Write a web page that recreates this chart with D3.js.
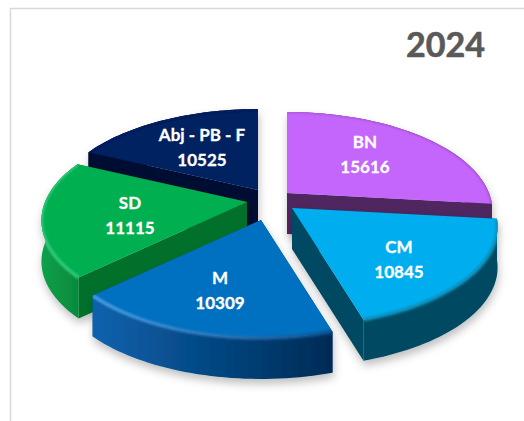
<!DOCTYPE html>
<html><head><meta charset="utf-8">
<style>html,body{margin:0;padding:0;background:#fff}svg{display:block}</style>
<script src="https://cdn.jsdelivr.net/npm/d3@7/dist/d3.min.js"></script>
</head><body><svg id="c" width="524" height="421"></svg>
<script>
const categories = ["BN","CM","M","SD","Abj - PB - F"];
const values = [15616,10845,10309,11115,10525];
const chartTitle = "2024";

const topColors  = ["#C465FB","#00AEEF","#0070C0","#00AF50","#002060"];
const cutColors  = ["#50265F","#004A63","#004A80","#066F2C","#000F30"];
const rimLeft    = ["#50265F","#004A63","#0A62AE","#0AA04A","#000F30"];
const rimRight   = ["#50265F","#004A63","#002B55","#068A3C","#000F30"];
const edgeLeft   = ["#a052d0","#0b8db8","#4aa0e4","#30c878","#001a50"];
const edgeRight  = ["#8a45b5","#0b8db8","#0a4f8c","#30c878","#001a50"];
const apexX = [287,292,261,247,258];
const apexY = [193,208,220,202,190];
const labelDX = [78,107,-41,-117,-56];
const labelDY = [-39,51,70,13,-43];

const RX=202, RY=96, K=0.186, DEPTH=41;
const svg=d3.select("#c");
const defs=svg.append("defs");
const sh=defs.append("filter").attr("id","shadow").attr("x","-20%").attr("y","-20%").attr("width","140%").attr("height","150%");
sh.append("feDropShadow").attr("dx",1).attr("dy",5).attr("stdDeviation",4).attr("flood-color","#000").attr("flood-opacity",.25);
defs.append("filter").attr("id","soft").attr("x","-10%").attr("y","-10%").attr("width","120%").attr("height","120%")
  .append("feGaussianBlur").attr("stdDeviation",1.3);

// frame
svg.append("line").attr("x1",10).attr("x2",524).attr("y1",8.5).attr("y2",8.5).attr("stroke","#d9d9d9").attr("stroke-width",1.5);
svg.append("line").attr("x1",10.5).attr("x2",10.5).attr("y1",8).attr("y2",421).attr("stroke","#d9d9d9").attr("stroke-width",1.5);

const pie=d3.pie().sort(null).startAngle(0).endAngle(2*Math.PI);
const arcs=pie(values);
const project=(a,r,i,dz=0)=>{
  const X=r*Math.sin(a),Z=r*Math.cos(a),w=1+K*Z;
  return [apexX[i]+RX*X/w, apexY[i]-RY*Z/w+dz];
};
const line=d3.line();
const sample=(d,i,dz=0)=>d3.range(0,41).map(t=>project(d.startAngle+(d.endAngle-d.startAngle)*t/40,1,i,dz));
const hGradient=(id,x1,x2,c1,c2)=>{
  const gr=defs.append("linearGradient").attr("id",id).attr("gradientUnits","userSpaceOnUse")
    .attr("x1",x1).attr("x2",x2).attr("y1",0).attr("y2",0);
  gr.append("stop").attr("offset",0).attr("stop-color",c1);
  gr.append("stop").attr("offset",1).attr("stop-color",c2);
};

const order=[4,0,3,1,2];
order.forEach(i=>{
  const d=arcs[i], g=svg.append("g").attr("filter","url(#shadow)");
  const top=sample(d,i), bot=sample(d,i,DEPTH);
  const apex=project(0,0,i), apexB=project(0,0,i,DEPTH);
  const xs=top.map(p=>p[0]);
  hGradient("rim"+i,d3.min(xs),d3.max(xs),rimLeft[i],rimRight[i]);
  hGradient("edge"+i,d3.min(xs),d3.max(xs),edgeLeft[i],edgeRight[i]);
  // cut faces
  const cut=(a,b)=>g.append("path").attr("d",line([a,b,[b[0],b[1]+DEPTH],[a[0],a[1]+DEPTH]])+"Z").attr("fill",cutColors[i]);
  cut(apex,top[0]);
  cut(apex,top[40]);
  // outer rim
  g.append("path").attr("d",line(top.concat(bot.slice().reverse()))+"Z").attr("fill",`url(#rim${i})`);
  // top face
  const face=[apex].concat(top);
  const clipId="clip"+i;
  defs.append("clipPath").attr("id",clipId).append("path")
    .attr("d",line(top.concat(bot.slice().reverse()))+"Z "+line(face)+"Z");
  g.append("path").attr("d",line(face)+"Z").attr("fill",topColors[i]);
  // bevel highlight along the outer edge
  g.append("g").attr("clip-path",`url(#${clipId})`).append("path").attr("d",line(top))
    .attr("fill","none").attr("stroke",`url(#edge${i})`).attr("stroke-width",i===0||i===4?1.5:3.5).attr("filter","url(#soft)");
  // labels
  const lx=apex[0]+labelDX[i], ly=apex[1]+labelDY[i];
  [categories[i],values[i]].forEach((s,k)=>{
    svg.append("text").attr("class","lab").attr("x",lx).attr("y",ly+(k?12.5:-12.5)).attr("dy","0.36em")
      .attr("text-anchor","middle").attr("font-family","Lato").attr("font-weight",700).attr("font-size",17)
      .attr("fill","#fff").attr("stroke","#fff").attr("stroke-width",.3).text(s);
  });
});
svg.selectAll("text.lab").raise();
svg.append("text").attr("x",445.5).attr("y",57).attr("text-anchor","middle").attr("font-family","Lato")
  .attr("font-weight",700).attr("font-size",34).attr("fill","#595959").attr("stroke","#595959").attr("stroke-width",.6).text(chartTitle);
</script></body></html>
